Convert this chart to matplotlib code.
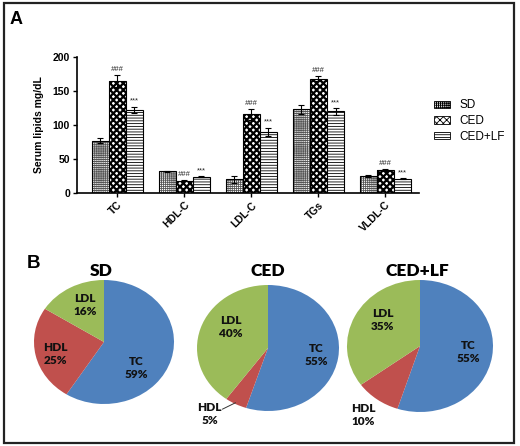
import numpy as np
import matplotlib.pyplot as plt
from matplotlib.patches import Rectangle

plt.rcParams['font.family'] = ['Liberation Sans', 'DejaVu Sans']

# panel A data (mean, SEM)
lipids = ['TC', 'HDL-C', 'LDL-C', 'TGs', 'VLDL-C']
groups = ['SD', 'CED', 'CED+LF']
sd_mean = [77, 32, 20, 123, 25]
sd_err = [4, 1, 5, 7, 1]
ced_mean = [165, 18, 116, 168, 34]
ced_err = [9, 1, 8, 4, 1]
lf_mean = [122, 24, 90, 120, 21]
lf_err = [5, 1, 6, 5, 1]
ced_mark = '###'
lf_mark = '***'

# panel B data (% of total)
pie_titles = ['SD', 'CED', 'CED+LF']
pie_labels = ['TC', 'HDL', 'LDL']
sd_pct = [59, 25, 16]
ced_pct = [55, 5, 40]
lf_pct = [55, 10, 35]
pie_colors = ['#4F81BD', '#C0504D', '#9BBB59']

fig = plt.figure(figsize=(5.2, 4.46), dpi=100)
W, H = 520.0, 446.0

def fbox(x0, y0, x1, y1):
    # pixel box -> figure fraction
    return [x0 / W, 1 - y1 / H, (x1 - x0) / W, (y1 - y0) / H]

# ---- A: bar chart
ax = fig.add_axes(fbox(77, 57, 419, 193))
x = np.arange(len(lipids))
bw = 0.255
series = [(sd_mean, sd_err, '++++++++', 0.6, '#555555', None),
          (ced_mean, ced_err, 'xxxxx', 1.6, 'black', ced_mark),
          (lf_mean, lf_err, '------', 0.6, 'black', lf_mark)]
handles = []
for i, (m, e, hatch, hlw, hcol, mark) in enumerate(series):
    pos = x + (i - 1) * bw
    plt.rcParams['hatch.linewidth'] = hlw
    bars = ax.bar(pos, m, bw, color='white', edgecolor=hcol,
                  hatch=hatch, linewidth=0, label=groups[i])
    for b in bars:
        if hasattr(b, 'set_hatch_linewidth'):
            b.set_hatch_linewidth(hlw)
    # black outline + error bars on top of the hatch
    ax.bar(pos, m, bw, fill=False, edgecolor='black', linewidth=0.8, yerr=e,
           error_kw=dict(ecolor='black', elinewidth=0.8, capsize=2.5, capthick=0.8))
    handles.append(bars)
    if mark:
        for p, v, er in zip(pos, m, e):
            ax.text(p, v + er + 3, mark, ha='center', va='bottom', fontsize=5.5,
                    style='italic' if mark == '###' else 'normal', color='#222222')

ax.set_xlim(-0.6, 4.5)
ax.set_ylim(0, 200)
ax.set_yticks([0, 50, 100, 150, 200])
ax.set_xticks(x)
ax.set_xticklabels(lipids, rotation=45, ha='right', rotation_mode='anchor',
                   fontsize=7.5, fontweight='bold')
for t in ax.get_yticklabels():
    t.set_fontsize(7.5)
    t.set_fontweight('bold')
ax.tick_params(length=3, width=1, pad=2)
ax.spines['top'].set_visible(False)
ax.spines['right'].set_visible(False)
ax.spines['left'].set_linewidth(1.2)
ax.spines['bottom'].set_linewidth(1.2)
ax.set_ylabel('Serum lipids mg/dL', fontsize=7.5, fontweight='bold', labelpad=6)

leg = fig.legend(handles=handles, labels=groups, loc='center left',
                 bbox_to_anchor=(423 / W, 1 - 121 / H), frameon=False, fontsize=8.5,
                 handlelength=1.4, handleheight=0.6, handletextpad=0.8,
                 labelspacing=0.3)
for p in leg.get_patches():
    p.set_linewidth(0.6)
    p.set_edgecolor('black')

fig.text(10 / W, 1 - 20 / H, 'A', fontsize=13, fontweight='bold', va='center')
fig.text(27 / W, 1 - 264 / H, 'B', fontsize=13.5, fontweight='bold', va='center')

# ---- B: pies
pie_boxes = [(34, 280, 174, 404), (197, 285, 339, 411), (347, 280, 493, 412)]
title_pos = [(101, 271), (268, 271), (417, 271)]
# label positions relative to each pie (unit radius)
label_pos = [[(0.46, -0.42), (-0.69, -0.19), (-0.27, 0.60)],
             [(0.68, -0.11), (-0.82, -1.05), (-0.52, 0.33)],
             [(0.66, -0.09), (-0.78, -1.04), (-0.51, 0.39)]]
pie_font = ['Lato', 'DejaVu Sans']

for k, pct in enumerate([sd_pct, ced_pct, lf_pct]):
    pa = fig.add_axes(fbox(*pie_boxes[k]))
    pa.pie(pct, colors=pie_colors, startangle=90, counterclock=False,
           wedgeprops=dict(linewidth=0))
    pa.set_aspect('auto')
    pa.set_xlim(-1, 1)
    pa.set_ylim(-1, 1)
    pa.axis('off')
    for j, lab in enumerate(pie_labels):
        lx, ly = label_pos[k][j]
        pa.text(lx, ly, f'{lab}\n{pct[j]}%', ha='center', va='center',
                fontsize=8.5, fontweight='heavy', family=pie_font,
                color='#111111', linespacing=1.25, clip_on=False)
    if k == 1:
        pa.plot([-0.64, -0.46], [-0.97, -0.87], color='#333333', lw=0.7,
                clip_on=False)
    tx, ty = title_pos[k]
    fig.text(tx / W, 1 - ty / H, pie_titles[k], ha='center', va='center',
             fontsize=12.5, fontweight='heavy', family=pie_font)

fig.patches.append(Rectangle((4 / W, 3 / H), 510 / W, 440 / H, fill=False,
                             lw=1.6, edgecolor='#222222',
                             transform=fig.transFigure, figure=fig))

fig.savefig('out.png', dpi=100)
